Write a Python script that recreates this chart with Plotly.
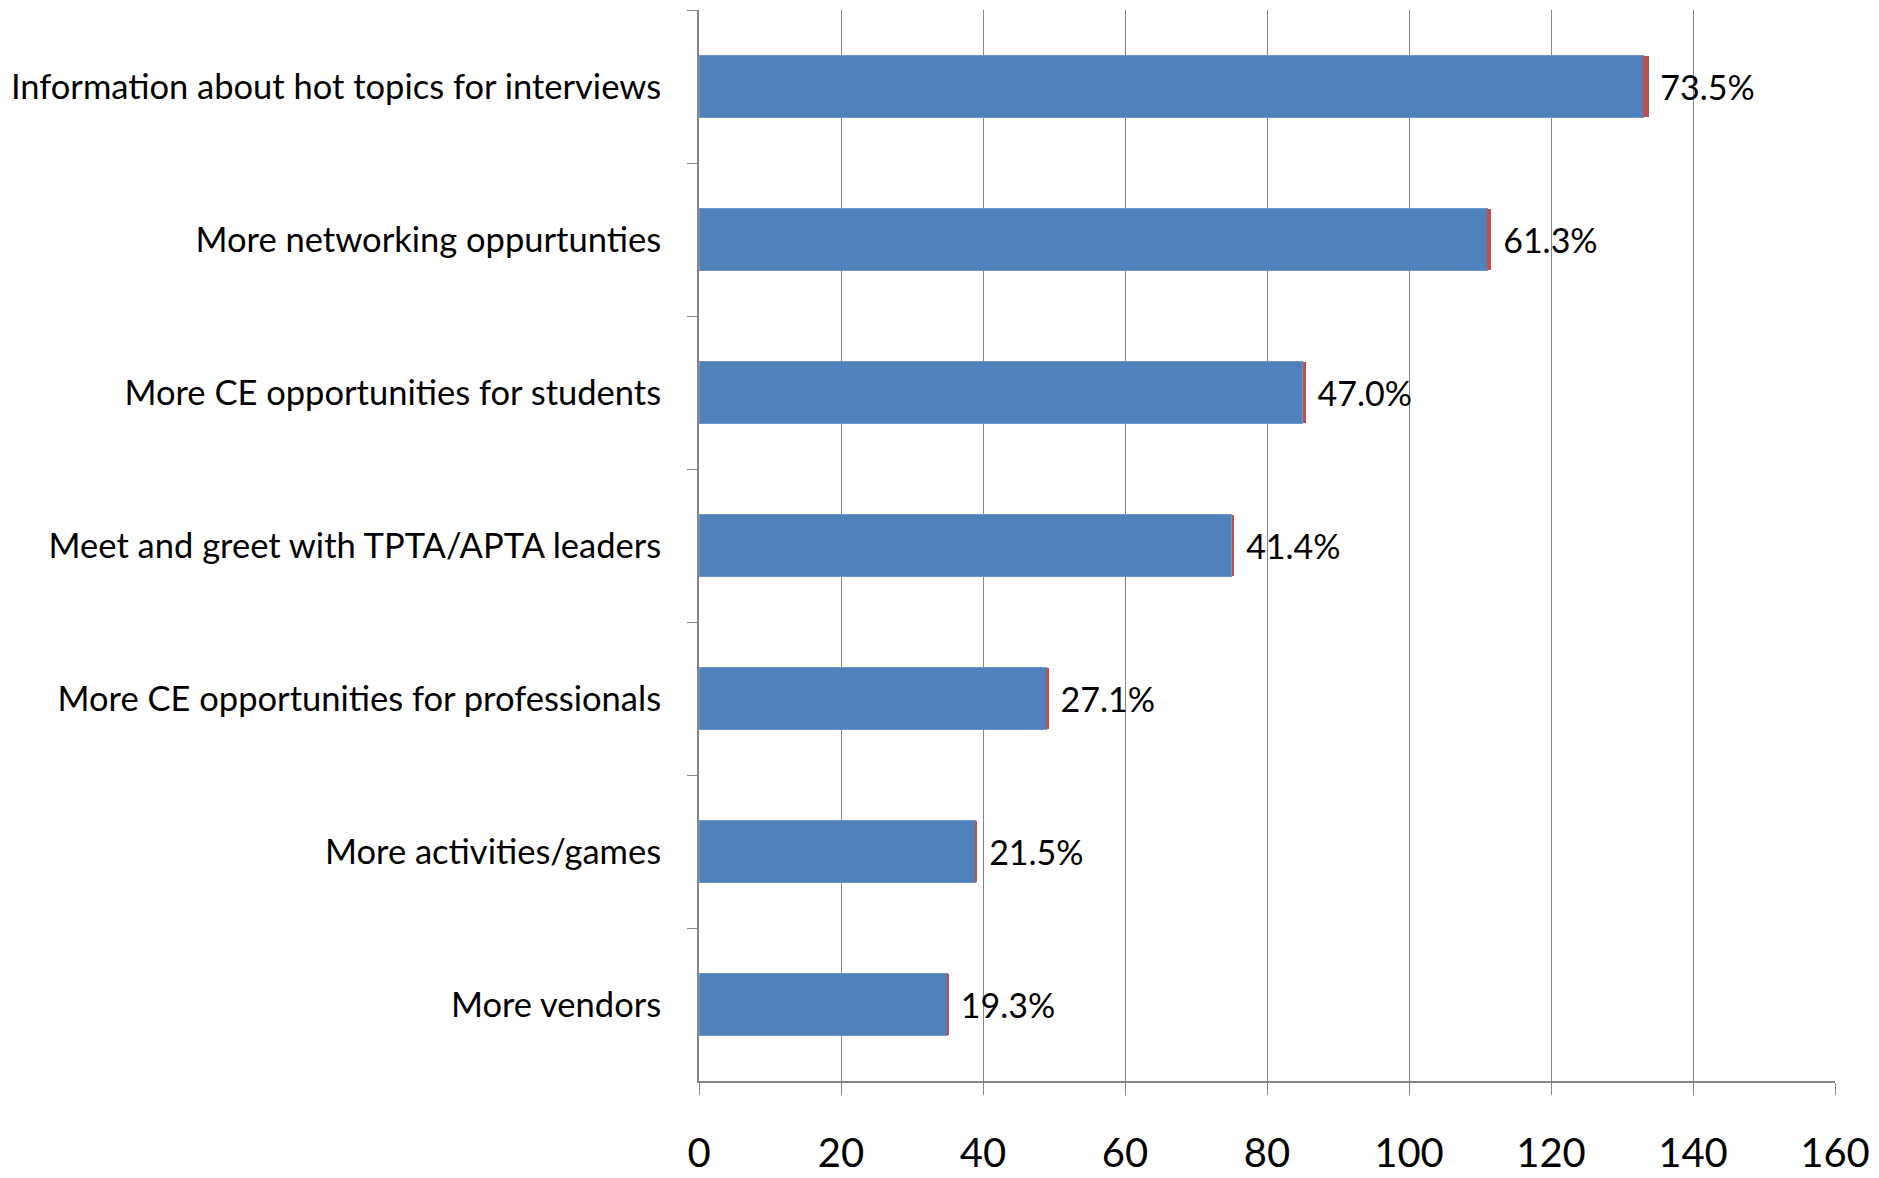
import plotly.graph_objects as go

categories = [
    "Information about hot topics for interviews",
    "More networking oppurtunties",
    "More CE opportunities for students",
    "Meet and greet with TPTA/APTA leaders",
    "More CE opportunities for professionals",
    "More activities/games",
    "More vendors",
]
counts = [133, 111, 85, 75, 49, 39, 35]
shares = [0.735, 0.613, 0.470, 0.414, 0.271, 0.215, 0.193]
share_labels = ["73.5%", "61.3%", "47.0%", "41.4%", "27.1%", "21.5%", "19.3%"]
x_ticks = [0, 20, 40, 60, 80, 100, 120, 140, 160]

FONT = "Lato"
GRID = "#868686"

fig = go.Figure()
fig.add_trace(go.Bar(
    y=categories, x=counts, orientation="h",
    marker=dict(color="#4F81BD", line=dict(color="#6F96C8", width=1)),
    showlegend=False, hoverinfo="skip",
))
fig.add_trace(go.Bar(
    y=categories, x=shares, orientation="h",
    marker=dict(color="#C0504D", line=dict(width=0)),
    text=[" " + s for s in share_labels], textposition="outside",
    textfont=dict(family=FONT, size=34, color="#000000"),
    cliponaxis=False, showlegend=False, hoverinfo="skip",
))

fig.update_layout(
    barmode="stack",
    bargap=0.6,
    width=1871, height=1170,
    margin=dict(l=691, r=44, t=2, b=97),
    paper_bgcolor="white", plot_bgcolor="white",
    font=dict(family=FONT, color="#000000"),
    uniformtext=dict(mode=False),
)
fig.update_xaxes(
    range=[0, 160], tickvals=x_ticks, ticktext=[str(v) for v in x_ticks],
    showgrid=True, gridcolor=GRID, gridwidth=1.2,
    showline=True, linecolor=GRID, linewidth=2,
    ticks="outside", ticklen=12, tickcolor=GRID, tickwidth=1.2,
    tickfont=dict(family=FONT, size=40, color="#000000"),
    ticklabelstandoff=24, ticklabeloverflow="allow",
    zeroline=False, automargin=False,
)
fig.update_yaxes(
    autorange="reversed",
    showline=True, linecolor=GRID, linewidth=2,
    ticks="outside", ticklen=10, tickcolor=GRID, tickwidth=1.2,
    tickson="boundaries",
    tickfont=dict(family=FONT, size=34.5, color="#000000"),
    ticklabelstandoff=29, showgrid=False, automargin=False,
)

fig.write_html("out.html")
